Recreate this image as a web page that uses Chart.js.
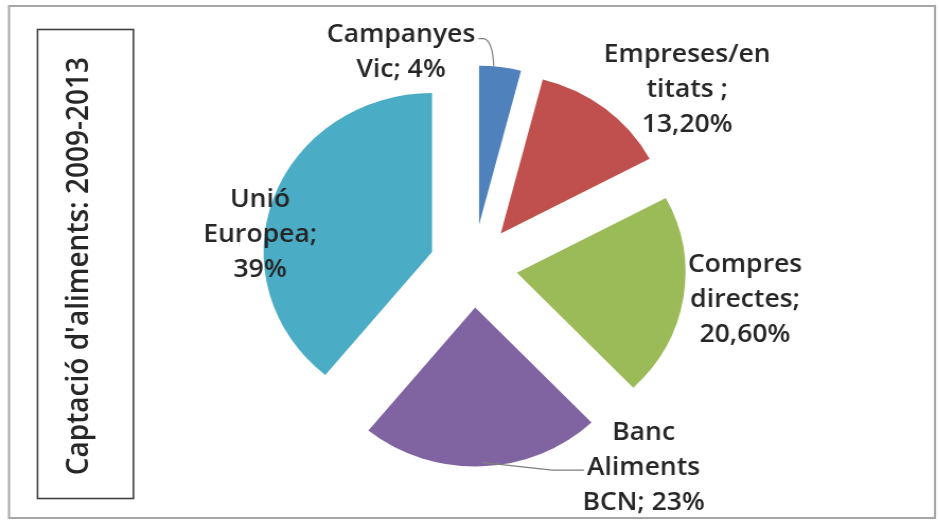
<!DOCTYPE html>
<html><head><meta charset="utf-8">
<script src="https://cdn.jsdelivr.net/npm/chart.js@4/dist/chart.umd.min.js"></script>
<style>
html,body{margin:0;padding:0;background:#fff;overflow:hidden}
#wrap{width:886px;height:527px;position:relative;transform:scaleX(1.06);transform-origin:0 0}
</style>
</head><body><div id="wrap"><canvas id="c" width="886" height="527"></canvas></div>
<script>
const categories = ['Campanyes Vic', 'Empreses/entitats', 'Compres directes', 'Banc Aliments BCN', 'Unió Europea'];
const values = [4, 13.2, 20.6, 23, 39];
const labelLines = [
  ['Campanyes', 'Vic; 4%'],
  ['Empreses/en', 'titats ;', '13,20%'],
  ['Compres', 'directes;', '20,60%'],
  ['Banc', 'Aliments', 'BCN; 23%'],
  ['Unió', 'Europea;', '39%']
];
const colors = ['#4F81BD', '#C0504D', '#9BBB59', '#8064A2', '#4BACC6'];
const chartTitle = "Captació d'aliments: 2009-2013";

const EXPLODE = 41.5;   // distance each slice is pulled out of the pie
const RADIUS = 159;
const FONT = '"Open Sans"';

const framePlugin = {
  id: 'frame',
  beforeDraw(chart) {
    const ctx = chart.ctx;
    ctx.save();
    ctx.fillStyle = '#fff';
    ctx.fillRect(0, 0, chart.width, chart.height);
    ctx.strokeStyle = '#a6a6a6';
    ctx.lineWidth = 2;
    ctx.strokeRect(8.5, 6, 873.6, 512);
    ctx.strokeStyle = '#404040';
    ctx.lineWidth = 1.6;
    ctx.strokeRect(35.4, 29.5, 90.5, 469);
    ctx.restore();
  }
};

// explode: move every slice outwards along its middle angle, keeping its radius and angle
const explodePlugin = {
  id: 'explode',
  beforeDatasetsDraw(chart) {
    chart.getDatasetMeta(0).data.forEach(arc => {
      if (arc.$baseX === undefined) { arc.$baseX = arc.x; arc.$baseY = arc.y; }
      const mid = (arc.startAngle + arc.endAngle) / 2;
      arc.x = arc.$baseX + Math.cos(mid) * EXPLODE;
      arc.y = arc.$baseY + Math.sin(mid) * EXPLODE;
    });
  }
};

const labelPlugin = {
  id: 'sliceLabels',
  afterDatasetsDraw(chart, args, opts) {
    const ctx = chart.ctx;
    const meta = chart.getDatasetMeta(0);
    ctx.save();
    ctx.font = `${opts.weight} ${opts.size}px ${FONT}`;
    ctx.fillStyle = '#262626';
    ctx.textAlign = 'center';
    ctx.textBaseline = 'middle';
    meta.data.forEach((arc, i) => {
      const mid = (arc.startAngle + arc.endAngle) / 2;
      const ox = arc.x + Math.cos(mid) * arc.outerRadius;
      const oy = arc.y + Math.sin(mid) * arc.outerRadius;
      const [dx, dy] = opts.shift[i];
      const cx = ox + dx, cy = oy + dy;
      const lines = labelLines[i];
      const y0 = cy - (lines.length - 1) * opts.lineHeight / 2;
      lines.forEach((t, k) => ctx.fillText(t, cx, y0 + k * opts.lineHeight));
      ctx.strokeStyle = '#7f7f7f';
      ctx.lineWidth = 1.2;
      if (i === 0) {
        const w = ctx.measureText(lines[0]).width;
        const sx = cx + w / 2 + 3, sy = y0 + 4;
        ctx.beginPath();
        ctx.moveTo(sx, sy);
        ctx.lineTo(sx + 5, sy);
        ctx.quadraticCurveTo(ox - 7, sy + 2, ox - 6, oy);
        ctx.stroke();
      }
      if (i === 3) {
        const w = ctx.measureText(lines[1]).width;
        const ex = cx - w / 2 - 3, ey = y0 + opts.lineHeight;
        ctx.beginPath();
        ctx.moveTo(ox, oy - 4);
        ctx.lineTo(ex - 30, ey + 2);
        ctx.lineTo(ex, ey + 2);
        ctx.stroke();
      }
    });
    ctx.restore();
  }
};

new Chart(document.getElementById('c'), {
  type: 'pie',
  data: {
    labels: categories,
    datasets: [{
      data: values,
      backgroundColor: colors,
      borderWidth: 0,
      radius: RADIUS
    }]
  },
  options: {
    responsive: false,
    animation: false,
    layout: { padding: { left: 48.7, right: 84.9, top: 5, bottom: 0 } },
    plugins: {
      legend: { display: false },
      tooltip: { enabled: false },
      title: {
        display: true,
        position: 'left',
        text: chartTitle,
        color: '#262626',
        font: { family: FONT, size: 28, weight: '600', lineHeight: 1.2 },
        padding: { top: 10, bottom: 0 }
      },
      sliceLabels: {
        size: 25,
        weight: '600',
        lineHeight: 35,
        shift: [[-93.5, -15], [77.5, -18.4], [58.2, 2.3], [152.9, 1.7], [-12.5, 36.2]]
      }
    }
  },
  plugins: [framePlugin, explodePlugin, labelPlugin]
});
</script>
</body></html>
